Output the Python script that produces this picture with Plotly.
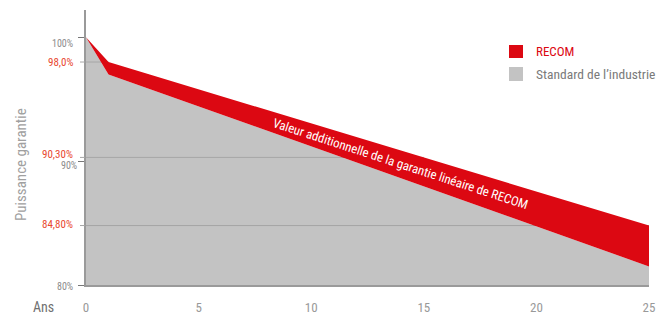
import plotly.graph_objects as go

# ---- data ----
years_recom = [0, 1, 25]
recom = [100.0, 98.0, 84.8]
years_ind = [0, 1, 25]
industry = [100.0, 97.0, 81.5]

x_ticks = [0, 5, 10, 15, 20, 25]
x_ticktext = ["0", "5", "10", "15", "20", "25"]

ref_years = [1, 15, 25]          # where the red reference values are reached
ref_values = [98.0, 90.3, 84.8]
ref_labels = ["98,0%", "90,30%", "84,80%"]
grey_values = [100, 90, 80]
grey_labels = ["100%", "90%", "80%"]

RED = "#dc0812"
GREY_FILL = "#c3c3c3"
LABEL_RED = "#e8472f"
GUIDE = "#a6a6a6"
FONT = "Roboto Condensed, DejaVu Sans Condensed, Liberation Sans Narrow, Arial Narrow, Roboto, sans-serif"

# plot area in pixels
L, R, T, B = 86, 649, 10, 285
W, H = 670, 316


def px(xp):
    return (xp - L) / (R - L)


def py(yp):
    return (B - yp) / (B - T)


fig = go.Figure()

# industry standard (grey area)
fig.add_trace(go.Scatter(
    x=years_ind, y=industry, mode="lines", line=dict(width=0, color=GREY_FILL),
    fill="tozeroy", fillcolor=GREY_FILL, hoverinfo="skip", showlegend=False))

# reference lines (under red band)
for yr, v in zip(ref_years, ref_values):
    fig.add_trace(go.Scatter(
        x=[0, yr], y=[v, v], mode="lines",
        line=dict(width=1, color=GUIDE), hoverinfo="skip", showlegend=False))

# red band between RECOM and industry
band_x = years_recom + years_ind[::-1]
band_y = recom + industry[::-1]
fig.add_trace(go.Scatter(
    x=band_x, y=band_y, mode="lines", line=dict(width=0, color=RED),
    fill="toself", fillcolor=RED, hoverinfo="skip", showlegend=False))

fig.update_xaxes(
    range=[0, 25], tickvals=x_ticks, ticktext=x_ticktext, automargin=False,
    showgrid=False, zeroline=False, showline=True, linecolor="#9a9a9a", linewidth=2,
    ticks="", tickfont=dict(family=FONT, size=13, color="#999999"),
    ticklabelstandoff=9)
fig.update_yaxes(
    range=[80, 102.2], tickvals=grey_values, automargin=False,
    showticklabels=False, showgrid=False, zeroline=False,
    showline=True, linecolor="#9a9a9a", linewidth=2,
    ticks="outside", ticklen=6, tickcolor="#777777", tickwidth=1)

ann = []


def add_text(xp, yp, text, size, color, xanchor="center", angle=0):
    ann.append(dict(x=px(xp), y=py(yp), xref="paper", yref="paper", text=text,
                    showarrow=False, xanchor=xanchor, yanchor="middle", borderpad=0,
                    textangle=angle, font=dict(family=FONT, size=size, color=color)))


# y labels
label_pos = {"100%": (74, 43), "90%": (78, 165.5), "80%": (74, 286)}
for t in grey_labels:
    xp, yp = label_pos[t]
    add_text(xp, yp, t, 10, "#8c8c8c", xanchor="right")
red_pos = {"98,0%": (74, 62), "90,30%": (74, 154), "84,80%": (74, 224)}
for t in ref_labels:
    xp, yp = red_pos[t]
    add_text(xp, yp, t, 11, LABEL_RED, xanchor="right")

# axis titles
add_text(21, 165, "Puissance garantie", 15, "#a0a0a0", angle=-90)
add_text(43, 307, "Ans", 14, "#707070")

# band label
add_text(400, 163, "Valeur additionnelle de la garantie linéaire de RECOM",
         12.8, "white", angle=18)

# legend
add_text(535, 52, "RECOM", 13, RED, xanchor="left")
add_text(535, 74, "Standard de l’industrie", 13.5, "#7a7a7a", xanchor="left")

shapes = [
    dict(type="rect", xref="paper", yref="paper", x0=px(509), x1=px(523),
         y0=py(58), y1=py(45), fillcolor=RED, line=dict(width=0)),
    dict(type="rect", xref="paper", yref="paper", x0=px(509), x1=px(523),
         y0=py(81), y1=py(67), fillcolor=GREY_FILL, line=dict(width=0)),
]
# short extensions of the guide lines to the left of the axis
for v in ref_values:
    shapes.append(dict(type="line", xref="paper", yref="y", x0=px(80), x1=px(85),
                       y0=v, y1=v, line=dict(color=GUIDE, width=1)))

fig.update_layout(
    width=W, height=H, margin=dict(l=L, r=W - R, t=T, b=H - B, pad=0, autoexpand=False),
    paper_bgcolor="white", plot_bgcolor="white",
    annotations=ann, shapes=shapes, showlegend=False)

fig.write_html("out.html", config={"displayModeBar": False},
               post_script="document.body.style.margin='0px';document.body.style.padding='0px';")
